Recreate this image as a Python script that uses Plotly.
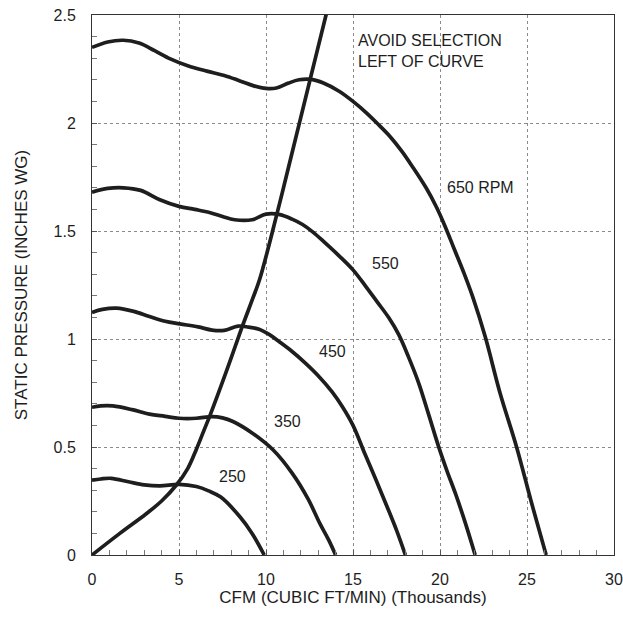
import plotly.graph_objects as go

# Fan curves (x = CFM in thousands, y = static pressure in inches WG)
rpm650_x = [0, 0.9, 1.8, 2.7, 3.6, 4.5, 5.5, 6.6, 7.6, 8.5, 9.3, 10.0, 10.6, 11.3, 11.9, 12.6,
            13.3, 14.2, 15.0, 15.8, 16.5, 17.1, 17.8, 18.4, 19.2, 19.8, 20.3, 20.8, 21.4, 21.9,
            22.6, 23.45, 24.4, 25.3, 26.1]
rpm650_y = [2.35, 2.375, 2.383, 2.37, 2.335, 2.297, 2.265, 2.24, 2.22, 2.195, 2.172, 2.16, 2.162,
            2.185, 2.20, 2.202, 2.185, 2.147, 2.10, 2.045, 1.99, 1.94, 1.87, 1.80, 1.70, 1.61,
            1.52, 1.42, 1.30, 1.19, 1.01, 0.75, 0.50, 0.23, 0]

rpm550_x = [0, 0.9, 1.8, 2.8, 3.9, 5.0, 5.9, 6.75, 7.5, 8.2, 9.2, 10.0, 10.8, 11.5, 12.1, 12.7,
            13.4, 14.2, 15.0, 15.72, 16.39, 17.06, 17.63, 18.2, 18.78, 19.35, 19.92, 20.4, 20.88,
            21.45, 22.02]
rpm550_y = [1.68, 1.697, 1.70, 1.688, 1.645, 1.614, 1.60, 1.586, 1.567, 1.552, 1.552, 1.578,
            1.576, 1.555, 1.53, 1.495, 1.445, 1.385, 1.32, 1.245, 1.172, 1.098, 1.02, 0.915,
            0.795, 0.65, 0.502, 0.39, 0.286, 0.15, 0]

rpm450_x = [0, 0.6, 1.4, 2.4, 3.3, 4.2, 5.04, 6.1, 6.9, 7.6, 8.4, 9.0, 9.6, 10.2, 10.8, 11.5,
            12.2, 13.0, 13.8, 14.4, 15.0, 15.7, 16.3, 16.9, 17.5, 18.01]
rpm450_y = [1.123, 1.137, 1.143, 1.128, 1.104, 1.082, 1.07, 1.056, 1.041, 1.04, 1.06, 1.055,
            1.045, 1.02, 0.985, 0.942, 0.893, 0.83, 0.755, 0.685, 0.60, 0.465, 0.352, 0.235,
            0.115, 0]

rpm350_x = [0, 0.5, 1.2, 2.3, 3.3, 4.2, 5.0, 6.0, 6.9, 7.5, 8.1, 9.2, 10.4, 11.5, 12.4, 13.1,
            13.6, 14.0]
rpm350_y = [0.684, 0.69, 0.69, 0.673, 0.652, 0.642, 0.633, 0.633, 0.641, 0.635, 0.618, 0.565,
            0.487, 0.379, 0.262, 0.145, 0.07, 0]

rpm250_x = [0, 0.5, 1.1, 2.1, 3.0, 3.9, 5.0, 6.0, 6.7, 7.4, 8.5, 9.2, 9.9]
rpm250_y = [0.347, 0.352, 0.355, 0.339, 0.325, 0.32, 0.327, 0.317, 0.297, 0.268, 0.177, 0.10, 0]

# "avoid selection left of curve" boundary
limit_x = [0, 1.6, 3.1, 4.0, 4.85, 5.5, 6.0, 6.4, 6.8, 7.7, 8.6, 9.25, 9.65, 10.6, 11.4, 12.5,
           13.45, 13.6]
limit_y = [0, 0.10, 0.19, 0.25, 0.324, 0.40, 0.49, 0.57, 0.65, 0.845, 1.05, 1.19, 1.28, 1.57,
           1.83, 2.19, 2.5, 2.55]

curve_labels = ["650 RPM", "550", "450", "350", "250"]
label_x = [20.3, 16.87, 13.81, 11.24, 8.05]
label_y = [1.70, 1.35, 0.942, 0.618, 0.363]

font = "Liberation Sans, Arial, sans-serif"
ink = "#1e1e1e"

fig = go.Figure()
for xs, ys in [(rpm650_x, rpm650_y), (rpm550_x, rpm550_y), (rpm450_x, rpm450_y),
               (rpm350_x, rpm350_y), (rpm250_x, rpm250_y), (limit_x, limit_y)]:
    fig.add_trace(go.Scatter(x=xs, y=ys, mode="lines",
                             line=dict(color=ink, width=3.7, shape="spline", smoothing=1.0),
                             hoverinfo="skip", showlegend=False))

# Curve labels
for i, txt in enumerate(curve_labels):
    fig.add_annotation(x=label_x[i], y=label_y[i], text=txt, showarrow=False,
                       xanchor="left" if i == 0 else "center",
                       font=dict(family=font, size=16, color=ink))

fig.add_annotation(x=15.2, y=2.335, text="AVOID SELECTION<br>LEFT OF CURVE", showarrow=False,
                   xanchor="left", align="left", font=dict(family=font, size=16, color=ink))

axis_common = dict(
    showgrid=True, gridcolor="#8a8a8a", griddash="dot", gridwidth=1,
    showline=True, linecolor="#333", linewidth=1, mirror=True,
    ticks="inside", ticklen=5, tickcolor="#555",
    zeroline=False, automargin=False, ticklabeloverflow="allow",
    tickfont=dict(family=font, size=16, color=ink),
)

fig.update_xaxes(range=[0, 30], dtick=5, tick0=0,
                 minor=dict(dtick=1, ticks="inside", ticklen=5, tickcolor="#777", showgrid=False),
                 ticklabelstandoff=10,
                 title=dict(text="CFM (CUBIC FT/MIN) (Thousands)", standoff=3,
                            font=dict(family=font, size=17, color=ink)),
                 **axis_common)
fig.update_yaxes(range=[0, 2.5], dtick=0.5, tick0=0,
                 minor=dict(dtick=0.1, ticks="inside", ticklen=5, tickcolor="#777", showgrid=False),
                 ticklabelstandoff=12,
                 title=dict(text="STATIC PRESSURE (INCHES WG)", standoff=21,
                            font=dict(family=font, size=17, color=ink)),
                 **axis_common)

fig.update_layout(
    width=623, height=621,
    margin=dict(l=92, r=9, t=15, b=66),
    paper_bgcolor="white", plot_bgcolor="white",
    showlegend=False,
)

# drop the page's default body margin so the figure fills the window
fig.write_html("out.html", config={"displayModeBar": False},
               post_script="document.body.style.margin='0';")
